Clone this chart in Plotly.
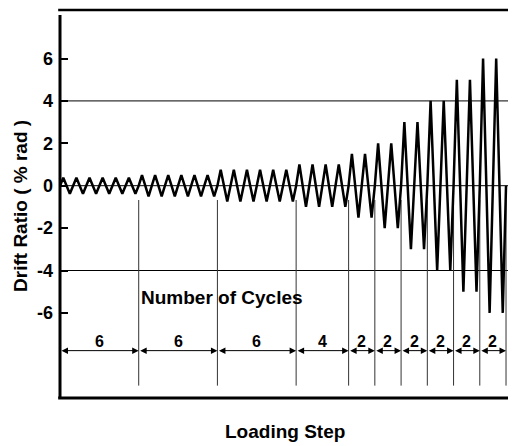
import plotly.graph_objects as go

# ---- data ----
cycle_counts = [6, 6, 6, 4, 2, 2, 2, 2, 2, 2]
amplitudes = [0.375, 0.5, 0.75, 1.0, 1.5, 2.0, 3.0, 4.0, 5.0, 6.0]
y_ticks = [-6, -4, -2, 0, 2, 4, 6]
grid_levels = [4, 0, -4]

FONT = "Liberation Sans, Arial, sans-serif"

# build the loading history (triangular cycles) from the step table
xs, ys = [0.0], [0.0]
c = 0
for n, a in zip(cycle_counts, amplitudes):
    for _ in range(n):
        for frac, val in [(0.25, a), (0.5, 0.0), (0.75, -a), (1.0, 0.0)]:
            xs.append(c + frac)
            ys.append(val)
        c += 1

boundaries = [0]
for n in cycle_counts:
    boundaries.append(boundaries[-1] + n)

fig = go.Figure()
fig.add_trace(go.Scatter(x=xs, y=ys, mode="lines",
                         line=dict(color="black", width=2.5),
                         hoverinfo="skip", showlegend=False))

Y0, Y1 = -10.014, 8.288
shapes = []
for g in grid_levels:
    shapes.append(dict(type="line", xref="paper", yref="y", x0=0, x1=1, y0=g, y1=g,
                       line=dict(color="black", width=1), layer="below"))
for b in boundaries[1:]:
    shapes.append(dict(type="line", xref="x", yref="y", x0=b, x1=b, y0=-0.675, y1=-9.43,
                       line=dict(color="#333333", width=1), layer="below"))
shapes.append(dict(type="line", xref="paper", yref="y", x0=0, x1=0, y0=Y0, y1=8.05,
                   line=dict(color="black", width=3)))
shapes.append(dict(type="line", xref="paper", yref="paper", x0=-0.004, x1=1, y0=1, y1=1,
                   line=dict(color="black", width=2.5)))
shapes.append(dict(type="line", xref="paper", yref="paper", x0=-0.004, x1=1, y0=0, y1=0,
                   line=dict(color="black", width=3)))

annotations = []
for a, b, n in zip(boundaries[:-1], boundaries[1:], cycle_counts):
    annotations.append(dict(x=b, y=-7.78, ax=a, ay=-7.78, xref="x", yref="y",
                            axref="x", ayref="y", text="", showarrow=True,
                            arrowhead=2, startarrowhead=2, arrowside="end+start",
                            arrowsize=1.3, startarrowsize=1.3, arrowwidth=1,
                            arrowcolor="black", standoff=0, startstandoff=0))
    annotations.append(dict(x=(a + b) / 2, y=-7.37, xref="x", yref="y", text=str(n),
                            showarrow=False, xanchor="center", yanchor="middle",
                            font=dict(family=FONT, size=16, color="black", weight="bold")))

annotations.append(dict(x=12.33, y=-5.25, xref="x", yref="y", text="Number of Cycles",
                        showarrow=False, xanchor="center", yanchor="middle",
                        font=dict(family=FONT, size=19, color="black", weight="bold")))
annotations.append(dict(x=0.4945, y=-0.087, xref="paper", yref="paper", text="Loading Step",
                        showarrow=False, xanchor="center", yanchor="middle",
                        font=dict(family=FONT, size=19, color="black", weight="bold")))
annotations.append(dict(x=-0.0855, y=0.495, xref="paper", yref="paper",
                        text="Drift Ratio ( % rad )", textangle=-90,
                        showarrow=False, xanchor="center", yanchor="middle",
                        font=dict(family=FONT, size=19, color="black", weight="bold")))

# page body has an 8px margin: shift the figure up/left by 8px
fig.update_layout(
    width=508, height=438,
    margin=dict(l=52, r=0, t=2, b=48),
    paper_bgcolor="white", plot_bgcolor="white",
    shapes=shapes, annotations=annotations,
    xaxis=dict(range=[0, 34.76], showgrid=False, zeroline=False, showline=False,
               showticklabels=False, ticks=""),
    yaxis=dict(range=[Y0, Y1], showgrid=False, zeroline=False, showline=False,
               tickvals=y_ticks, ticktext=[str(v) for v in y_ticks],
               ticks="inside", ticklen=8, tickwidth=2, tickcolor="black",
               ticklabelstandoff=6,
               tickfont=dict(family=FONT, size=18, color="black", weight="bold")),
)

fig.write_html("out.html")
